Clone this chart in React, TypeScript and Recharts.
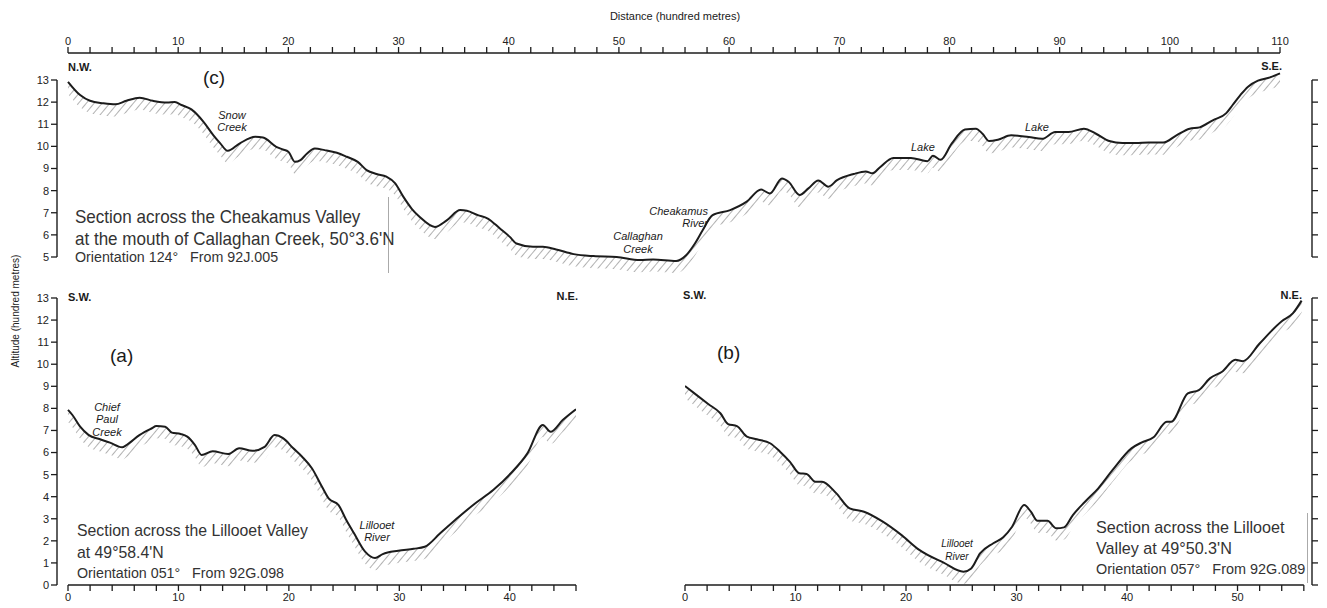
import React from "react";
import { ComposedChart, Line, Area, XAxis, YAxis, ReferenceLine } from "recharts";

// distances and altitudes are both in hundred metres

// (c) Cheakamus Valley at the mouth of Callaghan Creek
const cDist = [
  0, 1.1, 2.0, 3.2, 4.3, 5.3, 6.5, 7.7, 9.0, 9.7, 10.3, 11.2, 12.3, 13.2, 13.8, 14.5, 15.6, 17.0, 17.7, 18.9,
  19.5, 20.0, 20.6, 21.1, 21.7, 22.4, 23.3, 24.4, 25.3, 26.3, 27.1, 28.0, 28.9, 29.7, 30.4, 31.2, 31.9, 33.3,
  34.4, 35.6, 36.2, 37.2, 38.1, 39.2, 40.1, 40.7, 42.2, 43.1, 44.3, 45.9, 47.7, 49.8, 51.9, 53.1, 55.2, 56.1,
  56.9, 57.6, 58.5, 60.1, 61.6, 62.9, 63.7, 64.8, 65.4, 66.4, 67.2, 68.1, 69.0, 69.8, 71.3, 72.4, 73.0, 73.7,
  74.9, 76.5, 78.0, 78.5, 79.2, 80.2, 81.4, 82.4, 83.0, 83.6, 84.4, 85.6, 87.2, 88.4, 89.6, 90.8, 92.2, 93.3,
  94.5, 95.7, 96.9, 98.1, 99.4, 100.6, 101.8, 102.7, 103.9, 105.1, 105.7, 106.4, 107.1, 108.0, 109.1, 110,
];
const cAlt = [
  12.92, 12.32, 12.06, 11.95, 11.9, 12.06, 12.2, 12.06, 11.98, 12.0, 11.87, 11.67, 11.11, 10.5, 10.15, 9.8, 10.14,
  10.43, 10.4, 9.98, 9.86, 9.76, 9.3, 9.38, 9.68, 9.9, 9.83, 9.71, 9.53, 9.3, 8.93, 8.75, 8.63, 8.33, 7.75, 7.18,
  6.82, 6.36, 6.67, 7.12, 7.09, 6.89, 6.74, 6.29, 5.91, 5.61, 5.46, 5.46, 5.34, 5.13, 5.04, 5.0, 4.86, 4.89, 4.82,
  5.08, 5.61, 6.21, 6.89, 7.12, 7.5, 8.05, 7.87, 8.55, 8.4, 7.8, 8.1, 8.46, 8.18, 8.47, 8.75, 8.87, 8.78, 9.06,
  9.48, 9.48, 9.33, 9.58, 9.39, 10.12, 10.76, 10.8, 10.57, 10.24, 10.3, 10.5, 10.42, 10.34, 10.65, 10.65, 10.8,
  10.57, 10.24, 10.15, 10.15, 10.18, 10.17, 10.5, 10.8, 10.86, 11.18, 11.49, 11.87, 12.32, 12.7, 12.97, 13.12, 13.3,
];

// (a) Lillooet Valley at 49°58.4'N
const aDist = [
  0, 0.4, 1.1, 1.85, 2.9, 3.8, 4.9, 5.3, 6.5, 7.6, 8.0, 8.8, 9.4, 10.2, 10.8, 11.5, 12.1, 13.1, 14.5, 15.5, 16.7,
  17.8, 18.7, 19.5, 20.4, 21.2, 22.1, 23.0, 23.6, 24.5, 25.2, 25.9, 26.9, 27.8, 28.5, 29.9, 31.3, 32.3, 33.7,
  35.4, 36.8, 38.5, 40.1, 41.6, 43.0, 43.7, 44.8, 46.0,
];
const aAlt = [
  7.93, 7.7, 7.17, 6.8, 6.6, 6.45, 6.24, 6.34, 6.8, 7.1, 7.2, 7.17, 6.9, 6.84, 6.72, 6.34, 5.89, 6.06, 5.93, 6.19,
  6.08, 6.26, 6.79, 6.64, 6.19, 5.81, 5.28, 4.45, 3.92, 3.62, 2.94, 2.34, 1.51, 1.22, 1.4, 1.55, 1.64, 1.73, 2.34,
  3.09, 3.67, 4.3, 5.06, 5.96, 7.25, 6.94, 7.47, 7.96,
];

// (b) Lillooet Valley at 49°50.3'N
const bDist = [
  0, 1.06, 2.1, 3.2, 3.9, 4.7, 5.6, 6.5, 7.7, 8.6, 9.5, 10.35, 11.0, 11.8, 12.4, 13.7, 14.9, 16.2, 17.9, 19.6,
  21.2, 23.4, 25.2, 25.9, 26.7, 27.9, 28.8, 29.6, 30.7, 31.3, 31.9, 32.8, 33.6, 34.3, 35.1, 36.2, 37.4, 38.7,
  40.4, 41.3, 42.4, 43.6, 44.0, 45.5, 46.5, 47.5, 48.6, 49.8, 50.5, 52.0, 54.0, 55.0, 55.8,
];
const bAlt = [
  9.01, 8.6, 8.2, 7.78, 7.29, 7.2, 6.72, 6.6, 6.42, 6.04, 5.58, 5.06, 5.03, 4.68, 4.68, 4.15, 3.47, 3.32, 2.87,
  2.26, 1.59, 1.01, 0.6, 0.75, 1.43, 1.89, 2.16, 2.64, 3.62, 3.32, 2.91, 2.91, 2.57, 2.61, 3.17, 3.77, 4.38, 5.21,
  6.19, 6.45, 6.69, 7.4, 7.4, 8.68, 8.83, 9.36, 9.66, 10.2, 10.14, 10.94, 11.95, 12.3, 12.88,
];

const topTicks = [
  0, 2, 4, 6, 8, 10, 12, 14, 16, 18, 20, 22, 24, 26, 28, 30, 32, 34, 36, 38, 40, 42, 44, 46, 48, 50, 52, 54, 56,
  58, 60, 62, 64, 66, 68, 70, 72, 74, 76, 78, 80, 82, 84, 86, 88, 90, 92, 94, 96, 98, 100, 102, 104, 106, 108, 110,
];
const aTicks = [0, 2, 4, 6, 8, 10, 12, 14, 16, 18, 20, 22, 24, 26, 28, 30, 32, 34, 36, 38, 40, 42, 44, 46];
const bTicks = [0, 2, 4, 6, 8, 10, 12, 14, 16, 18, 20, 22, 24, 26, 28, 30, 32, 34, 36, 38, 40, 42, 44, 46, 48, 50, 52, 54, 56];
const cAltTicks = [5, 6, 7, 8, 9, 10, 11, 12, 13];
const abAltTicks = [0, 1, 2, 3, 4, 5, 6, 7, 8, 9, 10, 11, 12, 13];

const cRows = cDist.map((d, i) => ({ d, e: cAlt[i] }));
const aRows = aDist.map((d, i) => ({ d, e: aAlt[i] }));
const bRows = bDist.map((d, i) => ({ d, e: bAlt[i] }));

const INK = "#1c1c1c";
const HATCH = 0.55; // depth of the hatched strip under the ground line
const SANS = "'Liberation Sans', Arial, sans-serif";

const tens = (v: number) => (v % 10 === 0 ? String(v) : "");
const blank = () => "";
const band = (r: { e: number }) => [r.e - HATCH, r.e];

const hatchDef = (id: string) => (
  <defs>
    <pattern id={id} width="6" height="6" patternUnits="userSpaceOnUse" patternTransform="rotate(40)">
      <line x1="0" y1="0" x2="0" y2="6" stroke="#262626" strokeWidth="1.2" />
    </pattern>
  </defs>
);

const tickStyle = { fontSize: 11, fill: "#222", fontFamily: SANS };
const tickLineStyle = { stroke: INK, strokeWidth: 1.3 };

// y is the centre of the first line
function Txt({ x, y, size, children, align = "left", bold = false, italic = false, lh, sx = 1, color = "#1a1a1a" }: any) {
  const h = lh || size;
  const style: React.CSSProperties = {
    position: "absolute",
    top: y - h / 2,
    fontSize: size,
    lineHeight: `${h}px`,
    fontFamily: SANS,
    fontWeight: bold ? 700 : 400,
    fontStyle: italic ? "italic" : "normal",
    color,
    whiteSpace: "pre",
    textAlign: align,
  };
  if (align === "left") {
    style.left = x;
    if (sx !== 1) {
      style.transform = `scaleX(${sx})`;
      style.transformOrigin = "0 0";
    }
  }
  if (align === "right") style.right = 1327 - x;
  if (align === "center") {
    style.left = x;
    style.transform = "translateX(-50%)";
  }
  return <div style={style}>{children}</div>;
}

export default function App() {
  // plot boxes in data units (the extra room holds the axis lines and hatching)
  const cX: [number, number] = [-0.998, 112.904];
  const cY: [number, number] = [3.7345, 14.2203];
  const aX: [number, number] = [-0.996, 46];
  const abY: [number, number] = [0, 13.362];
  const bX: [number, number] = [0, 56.74];

  return (
    <div style={{ position: "absolute", left: 0, top: 0, width: 1327, height: 608, background: "#fff", overflow: "hidden", fontFamily: SANS }}>
      {/* (c) Cheakamus */}
      <div style={{ position: "absolute", left: 0, top: 0 }}>
        <ComposedChart width={1327} height={290} data={cRows} margin={{ top: 8, right: 0, bottom: 5, left: 20 }}>
          {hatchDef("hatchC")}
          <XAxis
            orientation="top"
            type="number"
            dataKey="d"
            domain={cX}
            allowDataOverflow
            ticks={topTicks}
            interval={0}
            tickFormatter={tens}
            axisLine={false}
            tickSize={6}
            height={45}
            tick={tickStyle}
            tickLine={tickLineStyle}
          />
          <YAxis type="number" domain={cY} allowDataOverflow ticks={cAltTicks} interval={0} width={37} axisLine={false} tickSize={6} tick={tickStyle} tickLine={tickLineStyle} />
          <YAxis yAxisId="r" orientation="right" type="number" domain={cY} allowDataOverflow ticks={cAltTicks} interval={0} width={15} axisLine={false} tickSize={6} tickFormatter={blank} tickLine={tickLineStyle} />
          <Area type="monotone" dataKey={band} fill="url(#hatchC)" stroke="none" isAnimationActive={false} />
          <Line type="monotone" dataKey="e" stroke={INK} strokeWidth={2} dot={false} isAnimationActive={false} />
          <ReferenceLine ifOverflow="visible" segment={[{ x: 0, y: cY[1] }, { x: 110, y: cY[1] }]} stroke={INK} strokeWidth={1.4} />
          <ReferenceLine ifOverflow="visible" segment={[{ x: cX[0], y: 5 }, { x: cX[0], y: 13 }]} stroke={INK} strokeWidth={1.4} />
          <ReferenceLine ifOverflow="visible" segment={[{ x: cX[1], y: 5 }, { x: cX[1], y: 13 }]} stroke={INK} strokeWidth={1.4} />
        </ComposedChart>
      </div>

      {/* (a) Lillooet 49°58.4'N */}
      <div style={{ position: "absolute", left: 0, top: 280 }}>
        <ComposedChart width={600} height={328} data={aRows} margin={{ top: 10, right: 24, bottom: 0, left: 20 }}>
          {hatchDef("hatchA")}
          <XAxis type="number" dataKey="d" domain={aX} allowDataOverflow ticks={aTicks} interval={0} tickFormatter={tens} axisLine={false} tickSize={6} height={23} tick={tickStyle} tickLine={tickLineStyle} />
          <YAxis type="number" domain={abY} allowDataOverflow ticks={abAltTicks} interval={0} width={37} axisLine={false} tickSize={6} tick={tickStyle} tickLine={tickLineStyle} />
          <Area type="monotone" dataKey={band} fill="url(#hatchA)" stroke="none" isAnimationActive={false} />
          <Line type="monotone" dataKey="e" stroke={INK} strokeWidth={2} dot={false} isAnimationActive={false} />
          <ReferenceLine ifOverflow="visible" segment={[{ x: 0, y: 0 }, { x: 46, y: 0 }]} stroke={INK} strokeWidth={1.4} />
          <ReferenceLine ifOverflow="visible" segment={[{ x: aX[0], y: 0 }, { x: aX[0], y: 13 }]} stroke={INK} strokeWidth={1.4} />
        </ComposedChart>
      </div>

      {/* (b) Lillooet 49°50.3'N */}
      <div style={{ position: "absolute", left: 600, top: 280 }}>
        <ComposedChart width={727} height={328} data={bRows} margin={{ top: 10, right: 0, bottom: 0, left: 85 }}>
          {hatchDef("hatchB")}
          <XAxis type="number" dataKey="d" domain={bX} allowDataOverflow ticks={bTicks} interval={0} tickFormatter={tens} axisLine={false} tickSize={6} height={23} tick={tickStyle} tickLine={tickLineStyle} />
          <YAxis orientation="right" type="number" domain={abY} allowDataOverflow ticks={abAltTicks} interval={0} width={15} axisLine={false} tickSize={6} tickFormatter={blank} tickLine={tickLineStyle} />
          <Area type="monotone" dataKey={band} fill="url(#hatchB)" stroke="none" isAnimationActive={false} />
          <Line type="monotone" dataKey="e" stroke={INK} strokeWidth={2} dot={false} isAnimationActive={false} />
          <ReferenceLine ifOverflow="visible" segment={[{ x: 0, y: 0 }, { x: 56, y: 0 }]} stroke={INK} strokeWidth={1.4} />
          <ReferenceLine ifOverflow="visible" segment={[{ x: bX[1], y: 0 }, { x: bX[1], y: 13 }]} stroke={INK} strokeWidth={1.4} />
        </ComposedChart>
      </div>

      {/* stray paste-up edges in the original figure */}
      <div style={{ position: "absolute", left: 388, top: 197, width: 1, height: 76, background: "#aaa" }} />
      <div style={{ position: "absolute", left: 1307, top: 513, width: 1, height: 70, background: "#aaa" }} />

      {/* titles and labels */}
      <Txt x={675} y={16} size={11} align="center">Distance (hundred metres)</Txt>
      <div
        style={{
          position: "absolute",
          left: 15,
          top: 311,
          transform: "translate(-50%, -50%) rotate(-90deg)",
          fontSize: 10,
          whiteSpace: "nowrap",
          color: "#222",
        }}
      >
        Altitude (hundred metres)
      </div>

      <Txt x={68} y={67} size={11} bold>N.W.</Txt>
      <Txt x={1282} y={66} size={11} bold align="right">S.E.</Txt>
      <Txt x={203} y={77} size={19}>(c)</Txt>
      <Txt x={232} y={115} size={11} italic align="center" lh={12}>{"Snow\nCreek"}</Txt>
      <Txt x={708} y={211} size={11} italic align="right" lh={12}>{"Cheakamus\nRiver"}</Txt>
      <Txt x={638} y={236} size={11} italic align="center" lh={13}>{"Callaghan\nCreek"}</Txt>
      <Txt x={911} y={147} size={11} italic>Lake</Txt>
      <Txt x={1025} y={127} size={11} italic>Lake</Txt>
      <Txt x={75} y={217} size={18.5} sx={0.92} lh={22} color="#333">
        {"Section across the Cheakamus Valley\nat the mouth of Callaghan Creek, 50°3.6'N"}
      </Txt>
      <Txt x={75} y={257} size={15.5} sx={0.92} color="#333">{"Orientation 124°   From 92J.005"}</Txt>

      <Txt x={68} y={297} size={11} bold>S.W.</Txt>
      <Txt x={578} y={296} size={11} bold align="right">N.E.</Txt>
      <Txt x={110} y={355} size={19}>(a)</Txt>
      <Txt x={107} y={407} size={11} italic align="center" lh={12.5}>{"Chief\nPaul\nCreek"}</Txt>
      <Txt x={377} y={525} size={11} italic align="center" lh={12}>{"Lillooet\nRiver"}</Txt>
      <Txt x={77} y={531} size={17} sx={0.93} lh={22} color="#333">
        {"Section across the Lillooet Valley\nat 49°58.4'N"}
      </Txt>
      <Txt x={77} y={573} size={15.5} sx={0.92} color="#333">{"Orientation 051°   From 92G.098"}</Txt>

      <Txt x={683} y={295} size={11} bold>S.W.</Txt>
      <Txt x={1302} y={295} size={11} bold align="right">N.E.</Txt>
      <Txt x={717} y={352} size={19}>(b)</Txt>
      <Txt x={957} y={543} size={10} italic align="center" lh={13}>{"Lillooet\nRiver"}</Txt>
      <Txt x={1096} y={527} size={17} sx={0.95} lh={21} color="#333">
        {"Section across the Lillooet\nValley at 49°50.3'N"}
      </Txt>
      <Txt x={1096} y={569} size={15.5} sx={0.93} color="#333">{"Orientation 057°   From 92G.089"}</Txt>
    </div>
  );
}
